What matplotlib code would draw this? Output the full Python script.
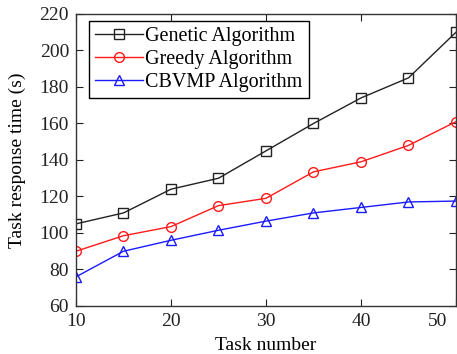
import matplotlib
matplotlib.use('Agg')
import matplotlib.pyplot as plt
import matplotlib.transforms as mtransforms

# task counts on the x axis
task_number = [10, 15, 20, 25, 30, 35, 40, 45, 50]

# response times (s)
genetic = [105, 111, 124, 130, 145, 160, 174, 185, 210]
greedy = [90, 98.5, 103.5, 115, 119, 133.5, 139, 148, 161]
cbvmp = [76, 90, 96, 101.5, 106.5, 111, 114, 117, 117.5]

labels = ['Genetic Algorithm', 'Greedy Algorithm', 'CBVMP Algorithm']

plt.rcParams['font.family'] = ['Liberation Serif', 'DejaVu Serif']
plt.rcParams['font.size'] = 14

fig = plt.figure(figsize=(4.57, 3.54), dpi=100)
ax = fig.add_axes([0.1663, 0.1356, 0.8315, 0.8249])

ax.plot(task_number, genetic, color='#222222', marker='s', markersize=6.5,
        markerfacecolor='none', linewidth=1.0, label=labels[0])
ax.plot(task_number, greedy, color='#ff1a1a', marker='o', markersize=7,
        markerfacecolor='none', linewidth=1.0, label=labels[1])
ax.plot(task_number, cbvmp, color='#1a1aff', marker='^', markersize=7.5,
        markerfacecolor='none', linewidth=1.0, label=labels[2])

ax.set_xlim(10, 50)
ax.set_ylim(60, 220)
ax.set_xticks([10, 20, 30, 40, 50])
ax.set_yticks(range(60, 221, 20))
ax.tick_params(direction='in', top=True, right=True, length=5, width=0.8,
               labelsize=14, colors='#222222', pad=5)
for sp in ax.spines.values():
    sp.set_color('#333333')
    sp.set_linewidth(1.0)

# last x tick label sits a little left so it stays inside the picture
fig.canvas.draw()
last = ax.get_xticklabels()[-1]
shift = mtransforms.ScaledTranslation(-18 / 100, 0, fig.dpi_scale_trans)
last.set_transform(last.get_transform() + shift)

ax.set_xlabel('Task number', fontsize=14, labelpad=5)
ax.set_ylabel('Task response time (s)', fontsize=14, labelpad=10)

leg = ax.legend(loc='upper left', bbox_to_anchor=(0.034, 0.976),
                borderaxespad=0, fancybox=False, edgecolor='black',
                framealpha=1, fontsize=14.5, labelspacing=0.2,
                handlelength=2.4, handletextpad=0.1, borderpad=0.3)
leg.get_frame().set_linewidth(1.0)

fig.savefig('out.png', dpi=100)
